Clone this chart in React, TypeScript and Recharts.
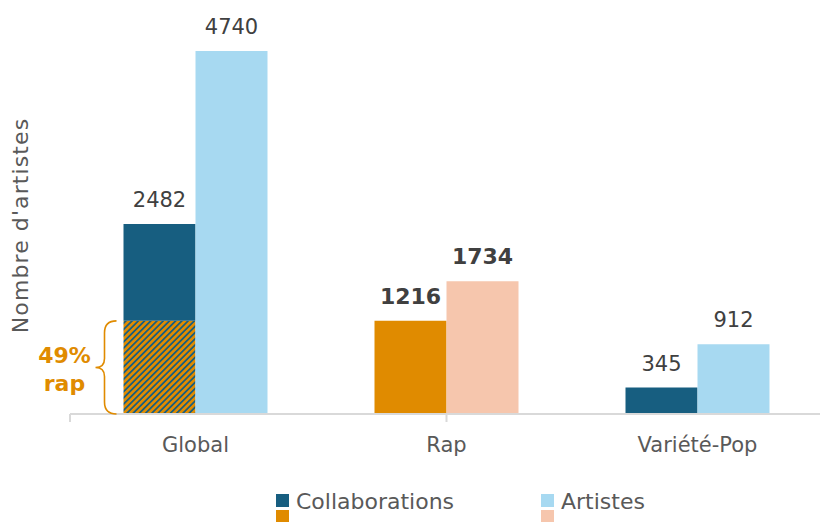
import { BarChart, Bar, XAxis, YAxis, Cell, LabelList } from 'recharts';

// Valeurs
const categories = ['Global', 'Rap', 'Variété-Pop'];
const collabRap = [1216, 1216, 0]; // part rap des collaborations (hachuré / orange)
const collabOther = [1266, 0, 345];
const collabTotal = [2482, 1216, 345];
const artists = [4740, 1734, 912];
const boldLabels = [false, true, false];
const rapShareLabel = ['49%', 'rap'];

const DARK = '#175E80';
const LIGHT = '#A7D9F1';
const ORANGE = '#E08B00';
const PEACH = '#F6C6AD';
const FONT = '"DejaVu Sans", sans-serif';

const data = categories.map((name, i) => ({
  name,
  rap: collabRap[i],
  other: collabOther[i],
  artists: artists[i],
}));

const valueText = (x: number, y: number, width: number, i: number, v: number) => {
  const bold = boldLabels[i];
  return (
    <text
      x={x + width / 2}
      y={y - 17}
      textAnchor="middle"
      fontFamily={FONT}
      fontSize={bold ? 22 : 21}
      fontWeight={bold ? 'bold' : 'normal'}
      fill="#404040"
    >
      {v}
    </text>
  );
};

// accolade + "49% rap" à gauche de la partie hachurée, ou valeur totale si rien au-dessus
const renderRapLabel = (props: any) => {
  const { x, y, width, height, value } = props;
  const i = categories.indexOf(value);
  if (i < 0) return null;
  if (collabOther[i] === 0) return valueText(x, y, width, i, collabTotal[i]);
  if (i !== 0) return null;
  const top = y;
  const bot = y + height;
  const mid = y + height / 2;
  const bx = x - 7;
  const lx = x - 19;
  const tx = x - 28;
  const d = `M${bx},${top} Q${lx},${top} ${lx},${top + 12} L${lx},${mid - 9} Q${lx},${mid} ${tx},${mid} Q${lx},${mid} ${lx},${mid + 9} L${lx},${bot - 12} Q${lx},${bot} ${bx},${bot}`;
  return (
    <g>
      <path d={d} fill="none" stroke={ORANGE} strokeWidth={1.6} />
      <text x={x - 59} y={mid - 4} textAnchor="middle" fontFamily={FONT} fontSize={22} fontWeight="bold" fill={ORANGE}>
        {rapShareLabel[0]}
      </text>
      <text x={x - 59} y={mid + 24} textAnchor="middle" fontFamily={FONT} fontSize={22} fontWeight="bold" fill={ORANGE}>
        {rapShareLabel[1]}
      </text>
    </g>
  );
};

const renderOtherLabel = (props: any) => {
  const { x, y, width, value } = props;
  const i = categories.indexOf(value);
  if (i < 0) return null;
  return valueText(x, y, width, i, collabTotal[i]);
};

const renderArtistLabel = (props: any) => {
  const { x, y, width, value } = props;
  const i = categories.indexOf(value);
  if (i < 0) return null;
  return valueText(x, y, width, i, artists[i]);
};

const legendRows = [
  { label: 'Collaborations', colors: [DARK, ORANGE], left: 276 },
  { label: 'Artistes', colors: [LIGHT, PEACH], left: 541 },
];

export default function App() {
  return (
    <div style={{ position: 'absolute', left: 0, top: 0, width: 820, height: 522, overflow: 'hidden', background: '#fff' }}>
      <BarChart
        width={826}
        height={522}
        data={data}
        margin={{ top: 31, right: 3, left: 0, bottom: 67 }}
        barCategoryGap={53.5}
        barGap={0}
      >
        <defs>
          <pattern id="hatch" width="4.4" height="4.4" patternUnits="userSpaceOnUse" patternTransform="rotate(45)">
            <rect width="4.4" height="4.4" fill={DARK} shapeRendering="crispEdges" />
            <rect width="2.5" height="4.4" fill={ORANGE} shapeRendering="crispEdges" />
          </pattern>
        </defs>
        <YAxis
          domain={[0, 5000]}
          width={70}
          tick={false}
          axisLine={false}
          tickLine={false}
          label={{
            content: (p: any) => {
              const vb = p.viewBox;
              const cx = 20;
              const cy = vb.y + vb.height / 2 + 3;
              return (
                <text
                  x={cx}
                  y={cy}
                  transform={`rotate(-90 ${cx} ${cy})`}
                  textAnchor="middle"
                  dominantBaseline="central"
                  fontFamily={FONT}
                  fontSize={22}
                  letterSpacing={1.1}
                  fill="#595959"
                >
                  Nombre d'artistes
                </text>
              );
            },
          }}
        />
        <XAxis
          xAxisId="b"
          dataKey="name"
          height={40}
          axisLine={false}
          tickLine={false}
          tickSize={4}
          tickMargin={18}
          tick={{ fontFamily: FONT, fontSize: 21, fill: '#595959' }}
        />
        <XAxis
          xAxisId="a"
          type="number"
          domain={[0, 3]}
          ticks={[0, 1, 2, 3]}
          height={1}
          tickSize={8}
          tickFormatter={() => ''}
          axisLine={{ stroke: '#D9D9D9', strokeWidth: 2 }}
          tickLine={{ stroke: '#D9D9D9', strokeWidth: 2 }}
        />
        <Bar dataKey="rap" stackId="c" xAxisId="b" isAnimationActive={false}>
          {data.map((_, i) => (
            <Cell key={i} fill={i === 0 ? 'url(#hatch)' : i === 1 ? ORANGE : DARK} />
          ))}
          <LabelList dataKey="name" content={renderRapLabel} />
        </Bar>
        <Bar dataKey="other" stackId="c" xAxisId="b" fill={DARK} isAnimationActive={false}>
          <LabelList dataKey="name" content={renderOtherLabel} />
        </Bar>
        <Bar dataKey="artists" xAxisId="b" isAnimationActive={false}>
          {data.map((_, i) => (
            <Cell key={i} fill={i === 1 ? PEACH : LIGHT} />
          ))}
          <LabelList dataKey="name" content={renderArtistLabel} />
        </Bar>
      </BarChart>
      {legendRows.map((r) => (
        <div key={r.label} style={{ position: 'absolute', left: r.left, top: 494 }}>
          <div style={{ position: 'absolute', left: 0, top: 0, width: 13, height: 13, background: r.colors[0] }} />
          <div style={{ position: 'absolute', left: 0, top: 16, width: 13, height: 13, background: r.colors[1] }} />
          <div
            style={{
              position: 'absolute',
              left: 20,
              top: -6,
              fontFamily: FONT,
              fontSize: 22,
              color: '#595959',
              whiteSpace: 'nowrap',
              lineHeight: '28px',
            }}
          >
            {r.label}
          </div>
        </div>
      ))}
    </div>
  );
}
